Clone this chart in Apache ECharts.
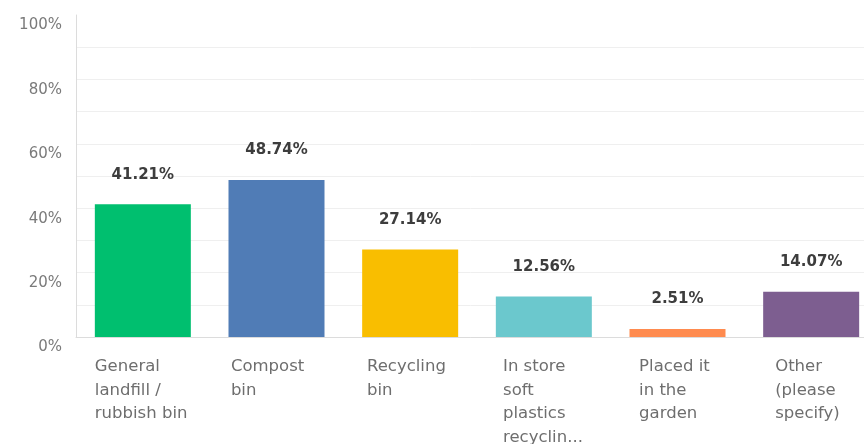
<!DOCTYPE html>
<html>
<head>
<meta charset="utf-8">
<script src="https://cdn.jsdelivr.net/npm/echarts@6/dist/echarts.min.js"></script>
<style>
  html, body { margin: 0; padding: 0; background: #ffffff; }
  #chart { width: 864px; height: 444px; }
</style>
</head>
<body>
<div id="chart"></div>
<script>
// Answer choices (line breaks as shown under each bar)
const categories = [
  'General\nlandfill /\nrubbish bin',
  'Compost\nbin',
  'Recycling\nbin',
  'In store\nsoft\nplastics\nrecyclin...',
  'Placed it\nin the\ngarden',
  'Other\n(please\nspecify)'
];
// Share of respondents, percent
const values = [41.21, 48.74, 27.14, 12.56, 2.51, 14.07];
const barColors = ['#00bf6f', '#507cb6', '#f9be00', '#6bc8cd', '#ff8b4f', '#7d5e90'];
const yTicks = [0, 20, 40, 60, 80, 100];

const FONT = '"DejaVu Sans", "Open Sans", sans-serif';
const BAR_WIDTH = 96;

// Answer text sits in columns slightly wider than the bar pitch, so each
// left-aligned label box narrows a little from one column to the next.
const labelBox = i => BAR_WIDTH - 4.8 * i;

const chart = echarts.init(document.getElementById('chart'), null, { renderer: 'canvas' });

chart.setOption({
  animation: false,
  backgroundColor: '#ffffff',
  grid: {
    left: 76, top: 15, width: 802, height: 322,
    containLabel: false,
    outerBoundsMode: 'none'
  },
  xAxis: {
    type: 'category',
    data: categories.map((c, i) => ({ value: c, textStyle: { width: labelBox(i) } })),
    axisLine: { show: true, lineStyle: { color: '#dcdcdc', width: 1 } },
    axisTick: { show: false },
    axisLabel: {
      interval: 0,
      margin: 18,
      width: BAR_WIDTH,
      align: 'center',
      formatter: v => '{t|' + v + '}',
      rich: {
        t: { align: 'left', fontFamily: FONT, fontSize: 16.5, lineHeight: 23.5, color: '#6e6e6e' }
      }
    }
  },
  yAxis: {
    type: 'value',
    min: yTicks[0],
    max: yTicks[yTicks.length - 1],
    interval: 20,
    axisLine: { show: true, lineStyle: { color: '#dcdcdc', width: 1 } },
    axisTick: { show: false },
    axisLabel: {
      margin: 14,
      verticalAlign: 'top',
      padding: [3, 0, 0, 0],
      fontFamily: FONT,
      fontSize: 15,
      color: '#7a7a7a',
      formatter: v => v + '%'
    },
    splitLine: { show: true, showMaxLine: false, lineStyle: { color: '#efefef', width: 1 } },
    minorTick: { show: false, splitNumber: 2 },
    minorSplitLine: { show: true, lineStyle: { color: '#efefef', width: 1 } }
  },
  series: [{
    type: 'bar',
    barWidth: BAR_WIDTH,
    data: values.map((v, i) => ({ value: v, itemStyle: { color: barColors[i] } })),
    label: {
      show: true,
      position: 'top',
      distance: 22,
      fontFamily: FONT,
      fontSize: 15,
      fontWeight: 'bold',
      color: '#3d3d3d',
      formatter: p => p.value.toFixed(2) + '%'
    }
  }]
});
</script>
</body>
</html>
